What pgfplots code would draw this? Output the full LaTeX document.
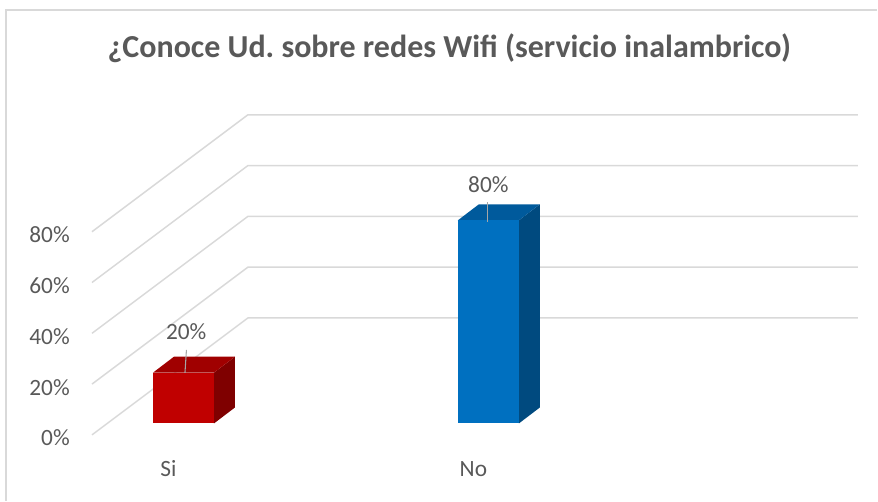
\documentclass[border=0pt]{standalone}
\usepackage{fontspec}
\setmainfont{Carlito}
\usepackage{pgfplots}
\pgfplotsset{compat=1.18}
\definecolor{txt}{HTML}{595959}
\definecolor{gridc}{HTML}{D9D9D9}
\definecolor{leader}{HTML}{A6A6A6}
\definecolor{redF}{HTML}{C00000}
\definecolor{redT}{HTML}{A00000}
\definecolor{redS}{HTML}{7F0000}
\definecolor{bluF}{HTML}{0070C0}
\definecolor{bluT}{HTML}{005A9C}
\definecolor{bluS}{HTML}{004A7F}
\frenchspacing
\begin{document}
\begin{tikzpicture}
\begin{axis}[
  scale only axis, width=658.5pt, height=375.75pt,
  xmin=0, xmax=878, ymin=-25.98, ymax=171.26,
  axis x line=bottom, axis y line=left,
  axis line style={draw=none, -},
  major tick length=0pt, tick style={draw=none},
  xtick={168.5,473.5}, xticklabels={Si,No},
  ytick={0,20,40,60,80}, yticklabels={0\%,20\%,40\%,60\%,80\%},
  tick label style={font=\fontsize{17.5}{20}\selectfont, text=txt, inner sep=0pt},
  yticklabel style={anchor=base east, xshift=52.5pt, yshift=-8.25pt},
  xticklabel style={anchor=base, yshift=18pt},
  clip=false,
]
% chart border (left and top)
\draw[gridc, line width=1.1pt] (axis cs:6,-25.98) -- (axis cs:6,167.3) -- (axis cs:877.5,167.3);
% floor/back wall gridlines
\addplot[gridc, line width=1.1pt, mark=none] coordinates {(92,0) (248,46.06) (858,46.06)};
\addplot[gridc, line width=1.1pt, mark=none] coordinates {(92,20) (248,66.06) (858,66.06)};
\addplot[gridc, line width=1.1pt, mark=none] coordinates {(92,40) (248,86.06) (858,86.06)};
\addplot[gridc, line width=1.1pt, mark=none] coordinates {(92,60) (248,106.06) (858,106.06)};
\addplot[gridc, line width=1.1pt, mark=none] coordinates {(92,80) (248,126.06) (858,126.06)};
% Si = 20% (base 4.5, top 24.5)
\addplot[fill=redS, draw=none, mark=none] coordinates {(214,4.5) (235,10.8) (235,30.8) (214,24.5)};
\addplot[fill=redT, draw=none, mark=none] coordinates {(153,24.5) (214,24.5) (235,30.8) (174,30.8)};
\addplot[fill=redF, draw=none, mark=none] coordinates {(153,4.5) (214,4.5) (214,24.5) (153,24.5)};
% No = 80% (base 4.5, top 84.5)
\addplot[fill=bluS, draw=none, mark=none] coordinates {(519,4.5) (540,10.8) (540,90.8) (519,84.5)};
\addplot[fill=bluT, draw=none, mark=none] coordinates {(458,84.5) (519,84.5) (540,90.8) (479,90.8)};
\addplot[fill=bluF, draw=none, mark=none] coordinates {(458,4.5) (519,4.5) (519,84.5) (458,84.5)};
% leader lines
\addplot[leader, line width=0.8pt, mark=none] coordinates {(186.5,33.5) (185,24.4)};
\addplot[leader, line width=0.8pt, mark=none] coordinates {(488,91.7) (488,83.9)};
% data labels
\node[anchor=base, text=txt, font=\fontsize{17.5}{20}\selectfont] at (axis cs:186.3,37.4) {20\%};
\node[anchor=base, text=txt, font=\fontsize{17.5}{20}\selectfont] at (axis cs:488.5,95.6) {80\%};
% title
\node[anchor=base, text=txt, font=\bfseries\fontsize{24}{28}\selectfont] at (axis cs:449.5,148.8) {¿Conoce Ud. sobre redes Wifi (servicio inalambrico)};
\end{axis}
\end{tikzpicture}
\end{document}
